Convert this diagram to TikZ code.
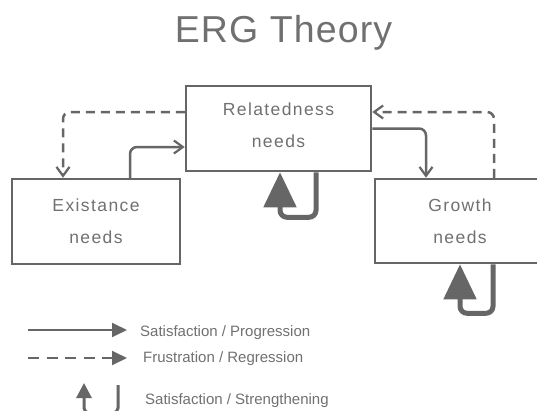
\documentclass[tikz,border=0pt]{standalone}
\usepackage{fontspec}
\setmainfont{Liberation Sans}
\newfontfamily\titlefont[LetterSpace=3]{Liberation Sans}
\newfontfamily\boxfont[LetterSpace=8]{Liberation Sans}
\usetikzlibrary{arrows.meta}
\definecolor{ergline}{RGB}{102,102,102}
\definecolor{ergtext}{RGB}{112,112,112}
\begin{document}
\begin{tikzpicture}[x=1pt, y=-1pt,
    needbox/.style={draw=ergline, line width=2.5pt, inner sep=0pt, text=ergtext,
      align=center, font=\boxfont\fontsize{17.5}{32}\selectfont},
    progress/.style={draw=ergline, line width=2.5pt, rounded corners=7pt,
      -{Straight Barb[length=9pt, width=13pt, line width=2.2pt]}},
    regress/.style={progress, dash pattern=on 9pt off 6pt},
    strengthen/.style={draw=ergline, line width=5pt, rounded corners=7pt,
      -{Triangle[length=35pt, width=32pt]}, fill=none},
    legendtext/.style={anchor=base west, inner sep=0pt, text=ergtext,
      font=\fontsize{15}{18}\selectfont}]

\useasboundingbox (0,0) rectangle (537,410);
\clip (0,0) rectangle (537,410);

% Title
\node[anchor=base, inner sep=0pt, text=ergtext, font=\titlefont\fontsize{37.5}{40}\selectfont]
  (title) at (283.5,42) {ERG Theory};

% The three needs
\node[needbox, minimum width=185pt, minimum height=85pt, text depth=6pt]
  (rel) at (278.5,128.5) {Relatedness\\needs};
\node[needbox, minimum width=168pt, minimum height=85pt]
  (ex) at (96,221.5) {Existance\\needs};
\node[needbox, minimum width=170pt, minimum height=84pt]
  (gr) at (460,221) {Growth\\needs};

% Existance <-> Relatedness
\draw[regress] ([yshift=16.5pt]rel.west) -| ([xshift=-33pt]ex.north);
\draw[progress] ([xshift=34pt]ex.north) |- ([yshift=-18.5pt]rel.west);

% Relatedness <-> Growth
\draw[progress] (rel.east) -| ([xshift=-34pt]gr.north);
\draw[regress] ([xshift=34pt]gr.north) |- ([yshift=16.5pt]rel.east);

% Strengthening loops
\draw[strengthen] ([xshift=37.5pt]rel.south) -- ++(0,45) -| ([xshift=1.5pt]rel.south);
\draw[strengthen] ([xshift=33pt]gr.south) -- ++(0,49) -| (gr.south);

% Legend
\node[legendtext] (leg1) at (140,336.5) {Satisfaction / Progression};
\node[legendtext] (leg2) at (143,362.5) {Frustration / Regression};
\node[legendtext] (leg3) at (145,404) {Satisfaction / Strengthening};

\coordinate (p1) at (28,330);
\coordinate (p2) at (127,330);
\draw[draw=ergline, line width=2pt, -{Triangle[length=15pt, width=14pt]}] (p1) -- (p2);

\coordinate (r1) at (28,358);
\coordinate (r2) at (127,358);
\draw[draw=ergline, line width=2pt, dash pattern=on 11pt off 7.5pt,
  -{Triangle[length=15pt, width=14pt]}] (r1) -- (r2);

\coordinate (s1) at (118,385);
\coordinate (s2) at (84,383);
\draw[draw=ergline, line width=3pt, rounded corners=5pt,
  -{Triangle[length=15pt, width=15pt]}] (s1) -- ++(0,28) -| (s2);

\end{tikzpicture}
\end{document}
